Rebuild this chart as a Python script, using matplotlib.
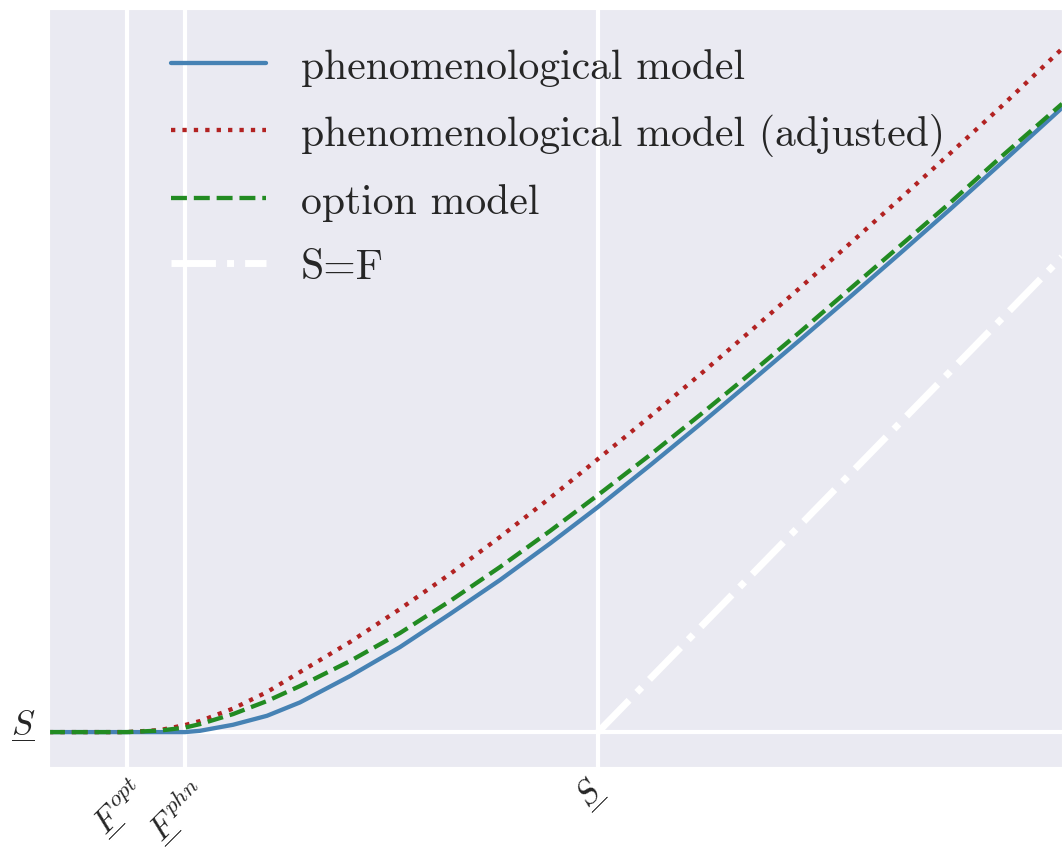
"""
Savings S as a function of wealth F under the phenomenological and option models.
"""
import matplotlib.pyplot as plt
import seaborn as sns

# thresholds on the F axis and the savings floor
F_opt = 0.142
F_phn = 0.248
S_low = 1.0

# common F grid for the three model curves
F = [0.0000, 0.1421, 0.2022, 0.2477, 0.2750, 0.3352, 0.3971, 0.4572,
     0.5483, 0.6393, 0.7304, 0.8215, 0.9126, 1.0000, 1.0947, 1.1858,
     1.2769, 1.3679, 1.4590, 1.5501, 1.6412, 1.7322, 1.8452]

# phenomenological model
S_phen = [1.0000, 1.0000, 1.0000, 1.0000, 1.0023, 1.0130, 1.0290, 1.0528,
          1.0996, 1.1512, 1.2100, 1.2705, 1.3354, 1.4004, 1.4744, 1.5473,
          1.6221, 1.6975, 1.7740, 1.8514, 1.9297, 2.0098, 2.1103]

# phenomenological model (adjusted)
S_adj = [1.0000, 1.0000, 1.0036, 1.0125, 1.0196, 1.0418, 1.0712, 1.1068,
         1.1601, 1.2189, 1.2811, 1.3470, 1.4164, 1.4858, 1.5612, 1.6359,
         1.7125, 1.7902, 1.8690, 1.9486, 2.0292, 2.1105, 2.2153]

# option model
S_optm = [1.0000, 1.0000, 1.0027, 1.0080, 1.0142, 1.0320, 1.0552, 1.0819,
          1.1263, 1.1762, 1.2331, 1.2936, 1.3577, 1.4217, 1.4929, 1.5641,
          1.6370, 1.7117, 1.7883, 1.8648, 1.9413, 2.0214, 2.1174]

# S = F reference line
F_diag = [1.0, 1.845]
S_diag = [1.0, 1.845]

sns.set_style("darkgrid")
plt.rcParams["font.family"] = ["cmr10", "DejaVu Serif"]
plt.rcParams["mathtext.fontset"] = "cm"
plt.rcParams["axes.formatter.use_mathtext"] = True

# mathtext has no \underline, so a rule-only fraction puts the bar under the symbol;
# a second, rule-less fraction lifts the superscript to the same height
UL = r"\genfrac{}{}{1.0}{0}{%s}{\,}"
SUP = r"\genfrac{}{}{0}{0}{{}^{%s}}{\,}"
tick_F_opt = "$" + UL % "F" + SUP % "opt" + "$"
tick_F_phn = "$" + UL % "F" + SUP % "phn" + "$"
tick_S = "$" + UL % "S" + "$"

fig = plt.figure(figsize=(10.62, 8.53), dpi=100)
ax = fig.add_axes([0.0461, 0.0997, 0.9539, 0.8886])

ax.plot(F, S_phen, color="#4682B4", lw=3.1, label="phenomenological model")
ax.plot(F, S_adj, color="#B22222", lw=3.1, ls=":", label="phenomenological model (adjusted)")
ax.plot(F, S_optm, color="#228B22", lw=3.1, ls="--", label="option model")
ax.plot(F_diag, S_diag, color="white", lw=5, ls="-.", label="S=F")

ax.set_xlim(0, 1.845)
ax.set_ylim(0.938, 2.286)

ax.set_xticks([F_opt, F_phn, S_low])
ax.set_xticklabels([tick_F_opt, tick_F_phn, tick_S], rotation=45, fontsize=24)
ax.set_yticks([S_low])
ax.set_yticklabels([tick_S], fontsize=25)
ax.tick_params(axis="x", length=0, pad=11)
ax.tick_params(axis="y", length=0, pad=10)
ax.grid(True, color="white", lw=3)

ax.legend(loc="upper left", bbox_to_anchor=(0.083, 0.998), frameon=False,
          fontsize=30, handlelength=2.28, handletextpad=0.84, labelspacing=0.65)

plt.savefig("out.png", dpi=100)
